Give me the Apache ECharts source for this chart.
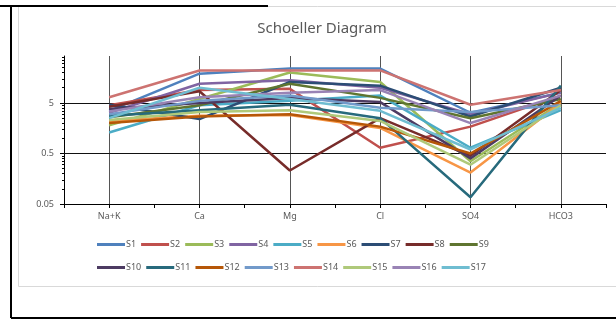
<!DOCTYPE html>
<html><head><meta charset="utf-8">
<script src="https://cdn.jsdelivr.net/npm/echarts@6/dist/echarts.min.js"></script>
<style>html,body{margin:0;padding:0;background:#fff}#c{width:616px;height:320px}</style>
</head><body><div id="c"></div>
<script>
const categories = ['Na+K', 'Ca', 'Mg', 'Cl', 'SO4', 'HCO3'];
const seriesNames = ['S1','S2','S3','S4','S5','S6','S7','S8','S9','S10','S11','S12','S13','S14','S15','S16','S17'];
const S1  = [3.5, 19, 24, 24, 3.2, 8];
const S2  = [4.5, 9, 9.5, 0.65, 1.7, 7];
const S3  = [1.8, 6, 20, 13, 0.35, 5];
const S4  = [3.2, 12, 14, 10, 3.0, 8];
const S5  = [1.3, 4.5, 5.5, 7, 0.65, 3.6];
const S6  = [2.2, 2.8, 2.9, 1.6, 0.21, 5];
const S7  = [4.6, 2.4, 13, 11, 2.7, 10];
const S8  = [4.2, 8.5, 0.23, 2.5, 0.45, 9];
const S9  = [2.6, 4.5, 12, 6.3, 2.5, 6];
const S10 = [3.8, 5, 6.3, 5.2, 0.4, 7];
const S11 = [2.8, 3.6, 4.6, 2.5, 0.068, 11];
const S12 = [2.0, 2.7, 3.0, 1.7, 0.5, 5.5];
const S13 = [3.0, 5.5, 7, 4, 3.3, 4.5];
const S14 = [6.5, 22, 22, 22, 4.6, 9];
const S15 = [2.3, 3.3, 3.6, 2.2, 0.3, 4.5];
const S16 = [3.4, 6.5, 8, 9, 2.0, 7];
const S17 = [2.5, 10, 6, 3.5, 0.6, 4];
const seriesValues = [S1,S2,S3,S4,S5,S6,S7,S8,S9,S10,S11,S12,S13,S14,S15,S16,S17];
const yTickLabels = [0.05, 0.5, 5];
const yMinorTicks = [0.1,0.15,0.2,0.25,0.3,0.35,0.4,0.45,1,1.5,2,2.5,3,3.5,4,4.5,10,15,20,25,30,35,40];
const gridLineValues = [0.5, 5];
const colors = ['#4F81BD','#C0504D','#9BBB59','#8064A2','#4BACC6','#F79646','#2C4D75','#772C2A','#5F7530','#4D3B62','#276A7C','#B65708','#729ACA','#CD7371','#AFC97A','#9983B5','#6FBDD1'];

const font = 'Noto Sans';
const series = seriesNames.map((n, i) => {
  const s = {
    name: n, type: 'line', data: seriesValues[i], symbol: 'none',
    lineStyle: { width: 2.5, color: colors[i] }, itemStyle: { color: colors[i] },
    xAxisIndex: 0, yAxisIndex: 0, animation: false, z: 2
  };
  if (i === 0) {
    s.markLine = {
      silent: true, symbol: ['none','none'], z: 1, animation: false,
      label: { show: false },
      data: categories.map(c => ({ xAxis: c, lineStyle: { color: '#555', width: 1, type: 'solid' } }))
        .concat(gridLineValues.map(v => ({ yAxis: v, lineStyle: { color: '#111', width: 1, type: 'solid' } })))
    };
  }
  return s;
});

const legendCommon = {
  left: 97, padding: 0, orient: 'horizontal', icon: 'rect', itemWidth: 28, itemHeight: 3, itemGap: 5,
  textStyle: { fontFamily: font, fontSize: 9, color: '#595959', width: 16, padding: [0, 0, 0, -4] }
};

const chart = echarts.init(document.getElementById('c'), null, { renderer: 'canvas' });
chart.setOption({
  animation: false,
  color: colors,
  graphic: [
    { type: 'rect', z: -10, shape: { x: 18.5, y: 6.5, width: 620, height: 280 }, style: { fill: '#fff', stroke: '#d9d9d9', lineWidth: 1 } },
    { type: 'line', z: -5, shape: { x1: 0, y1: 6, x2: 268, y2: 6 }, style: { stroke: '#000', lineWidth: 2 } },
    { type: 'line', z: -5, shape: { x1: 11, y1: 6, x2: 11, y2: 318 }, style: { stroke: '#000', lineWidth: 2 } },
    { type: 'line', z: -5, shape: { x1: 11, y1: 318, x2: 616, y2: 318 }, style: { stroke: '#000', lineWidth: 2 } }
  ],
  title: {
    text: 'Schoeller Diagram', left: 317, top: 16, textAlign: 'center',
    textStyle: { fontFamily: font, fontSize: 15, fontWeight: 'normal', color: '#595959' }
  },
  grid: { left: 64, right: 10, top: 56, bottom: 116, containLabel: false },
  xAxis: [
    {
      type: 'category', data: categories, boundaryGap: true,
      axisLine: { show: true, lineStyle: { color: '#000', width: 1 } },
      axisTick: { show: true, length: 4, lineStyle: { color: '#000' } },
      axisLabel: { fontFamily: font, fontSize: 9, color: '#595959', margin: 8 },
      splitLine: { show: false }
    },
    {
      type: 'category', data: categories, boundaryGap: true, position: 'bottom',
      axisLine: { show: false },
      axisTick: { show: true, alignWithLabel: true, length: 4, lineStyle: { color: '#000' } },
      axisLabel: { show: false }, splitLine: { show: false }
    }
  ],
  yAxis: [
    {
      type: 'log', logBase: 10, min: 0.05, max: 42.5, position: 'left',
      axisLine: { show: true, lineStyle: { color: '#000', width: 1 } },
      axisTick: { show: true, length: 4, customValues: yTickLabels, lineStyle: { color: '#000' } },
      axisLabel: { customValues: yTickLabels, fontFamily: font, fontSize: 9, color: '#595959', margin: 10, formatter: v => String(v) },
      splitLine: { show: false }
    },
    {
      type: 'log', logBase: 10, min: 0.05, max: 42.5, position: 'left',
      axisLine: { show: false },
      axisTick: { show: true, length: 2, customValues: yMinorTicks, lineStyle: { color: '#000' } },
      axisLabel: { show: false }, splitLine: { show: false }
    }
  ],
  legend: [
    Object.assign({ top: 240, data: seriesNames.slice(0, 9) }, legendCommon),
    Object.assign({ top: 263, data: seriesNames.slice(9) }, legendCommon)
  ],
  series: series
});
</script></body></html>
